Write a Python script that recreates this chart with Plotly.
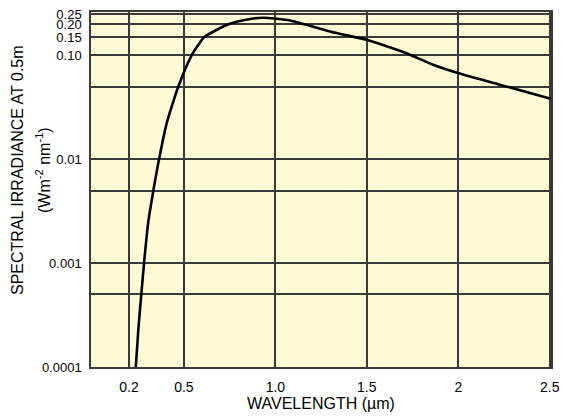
import plotly.graph_objects as go

# Data
wavelength_um = [0.237, 0.251, 0.267, 0.282, 0.305, 0.333, 0.364, 0.406, 0.442, 0.469,
                 0.542, 0.578, 0.611, 0.660, 0.724, 0.788, 0.879, 0.933, 1.006, 1.080,
                 1.170, 1.334, 1.498, 1.600, 1.717, 1.862, 1.998, 2.226, 2.505]
irradiance = [0.0001, 0.000233, 0.0005, 0.001, 0.00248, 0.005, 0.01, 0.0223, 0.036, 0.05,
              0.10, 0.126, 0.15, 0.169, 0.193, 0.211, 0.227, 0.2305, 0.2255, 0.217,
              0.197, 0.164, 0.1416, 0.124, 0.105, 0.0814, 0.0677, 0.0523, 0.0383]

x_tickvals = [0.2, 0.5, 1.0, 1.5, 2.0, 2.5]
x_ticktext = ["0.2", "0.5", "1.0", "1.5", "2", "2.5"]
y_tickvals = [0.0001, 0.0005, 0.001, 0.005, 0.01, 0.05, 0.10, 0.15, 0.20, 0.25]
y_ticktext = ["0.0001", "", "0.001", "", "0.01", "", "0.10", "0.15", "0.20", "0.25"]

FONT = "Liberation Sans, Arial, Helvetica, sans-serif"
GRID = "#3a3a3a"

fig = go.Figure()
fig.add_trace(go.Scatter(
    x=wavelength_um, y=irradiance, mode="lines",
    line=dict(color="black", width=2.6, shape="spline", smoothing=0.7),
    hoverinfo="skip", showlegend=False,
))

fig.update_layout(
    width=563, height=416,
    margin=dict(l=91, r=12, t=12, b=49),
    paper_bgcolor="white",
    plot_bgcolor="#FFFAD6",
    font=dict(family=FONT, size=13, color="black"),
    showlegend=False,
)

fig.update_xaxes(
    range=[-0.008, 2.507],
    tickmode="array", tickvals=x_tickvals, ticktext=x_ticktext,
    showgrid=True, gridcolor=GRID, gridwidth=1.5,
    showline=True, linecolor=GRID, linewidth=1.5, mirror=True,
    ticks="", ticklabelstandoff=6,
    zeroline=False, automargin=False,
    tickfont=dict(size=14),
)
fig.update_yaxes(
    type="log",
    range=[-4, -0.582],
    tickmode="array", tickvals=y_tickvals, ticktext=y_ticktext,
    showgrid=True, gridcolor=GRID, gridwidth=1.5,
    showline=True, linecolor=GRID, linewidth=1.5, mirror=True,
    ticks="", ticklabelstandoff=5,
    zeroline=False, automargin=False,
    tickfont=dict(size=13),
)

# Axis titles as annotations for precise placement
fig.add_annotation(
    text="WAVELENGTH (µm)", xref="paper", yref="paper",
    x=0.5, y=0, yshift=-36, showarrow=False, yanchor="middle",
    font=dict(family=FONT, size=16),
)
fig.add_annotation(
    text="SPECTRAL IRRADIANCE AT 0.5m", xref="paper", yref="paper",
    x=0, xshift=-73, y=0.555, showarrow=False, textangle=-90,
    xanchor="center", yanchor="middle",
    font=dict(family=FONT, size=16),
)
fig.add_annotation(
    text="(Wm<sup>-2</sup> nm<sup>-1</sup>)", xref="paper", yref="paper",
    x=0, xshift=-48, y=0.555, showarrow=False, textangle=-90,
    xanchor="center", yanchor="middle",
    font=dict(family=FONT, size=16),
)

fig.write_html("out.html", config={"displayModeBar": False},
               post_script="document.body.style.margin='0px';")
